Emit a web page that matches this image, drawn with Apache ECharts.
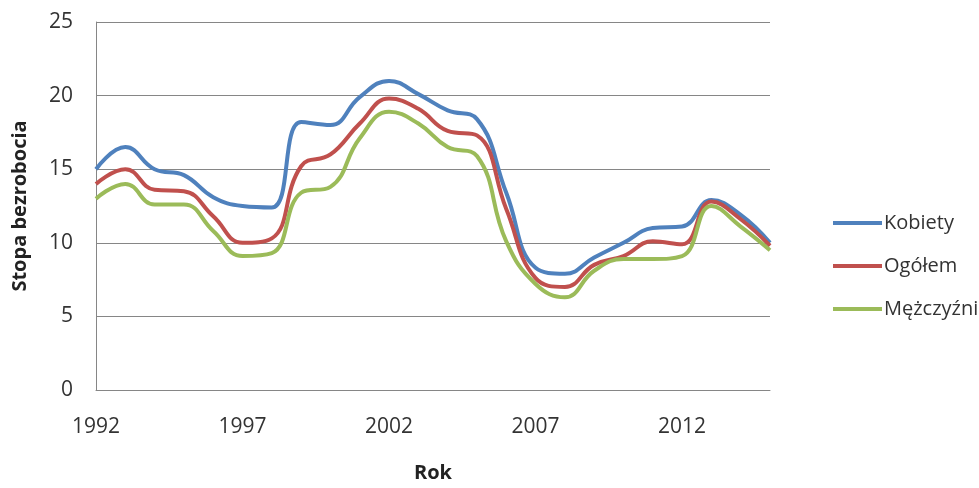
<!DOCTYPE html>
<html>
<head>
<meta charset="utf-8">
<script src="https://cdn.jsdelivr.net/npm/echarts@6/dist/echarts.min.js"></script>
<style>html,body{margin:0;padding:0;background:#fff;overflow:hidden;}#c{width:979px;height:488px;}</style>
</head>
<body>
<div id="c"></div>
<script>
const years = ['1992','1993','1994','1995','1996','1997','1998','1999','2000','2001','2002','2003','2004','2005','2006','2007','2008','2009','2010','2011','2012','2013','2014','2015'];
const kobiety = [15.0,16.5,15.0,14.6,13.1,12.5,12.4,18.2,18.0,19.9,21.0,20.1,19.0,18.4,13.4,8.3,7.9,9.0,10.0,11.0,11.1,12.9,11.9,10.0];
const ogolem = [14.0,15.0,13.6,13.5,11.8,10.0,10.3,15.2,16.0,18.1,19.8,19.1,17.6,17.3,12.3,7.6,7.0,8.5,9.1,10.1,9.9,12.8,11.6,9.8];
const mezczyzni = [13.0,14.0,12.6,12.6,10.8,9.1,9.3,13.4,13.8,17.1,18.9,18.1,16.5,15.9,10.1,7.2,6.3,8.1,8.9,8.9,9.1,12.5,11.1,9.5];
const xLabels = ['1992','1997','2002','2007','2012'];

const font = 'Open Sans';
const chart = echarts.init(document.getElementById('c'), null, {renderer:'canvas'});
function mk(name, data, color){
  return {name, type:'line', data, smooth:0.45, symbol:'none', showSymbol:false,
    lineStyle:{color, width:4}, itemStyle:{color}, z: 2};
}
chart.setOption({
  animation:false,
  backgroundColor:'#fff',
  textStyle:{fontFamily:font},
  grid:{left:96, right:209, top:22, bottom:91, containLabel:false},
  legend:{
    orient:'vertical', left:828, top:207, itemWidth:49, itemHeight:4, itemGap:21,
    icon:'path://M0,0 L50,0 L50,4 L0,4 Z',
    textStyle:{fontFamily:font, fontSize:20, lineHeight:22, color:'#333', padding:[0,0,0,-3]},
    data:['Kobiety','Ogółem','Mężczyźni']
  },
  xAxis:{
    type:'category', data:years, boundaryGap:false,
    name:'Rok', nameLocation:'middle', nameGap:73,
    nameTextStyle:{fontFamily:font, fontSize:20, fontWeight:'bold', color:'#222'},
    axisLine:{show:true, lineStyle:{color:'#868686', width:1}},
    axisTick:{show:false},
    axisLabel:{interval:0, margin:27, fontFamily:font, fontSize:21, color:'#333',
      formatter:v => xLabels.indexOf(v) >= 0 ? v : ''},
    splitLine:{show:false}
  },
  yAxis:{
    type:'value', min:0, max:25, interval:5,
    name:'Stopa bezrobocia', nameLocation:'middle', nameGap:66,
    nameTextStyle:{fontFamily:font, fontSize:20, fontWeight:'bold', color:'#222'},
    axisLine:{show:true, lineStyle:{color:'#868686', width:1}},
    axisTick:{show:false},
    axisLabel:{margin:23, fontFamily:font, fontSize:21, color:'#333'},
    splitLine:{show:true, lineStyle:{color:'#868686', width:1}}
  },
  series:[
    mk('Kobiety', kobiety, '#4F81BD'),
    mk('Ogółem', ogolem, '#C0504D'),
    mk('Mężczyźni', mezczyzni, '#9BBB59')
  ]
});
</script>
</body>
</html>
